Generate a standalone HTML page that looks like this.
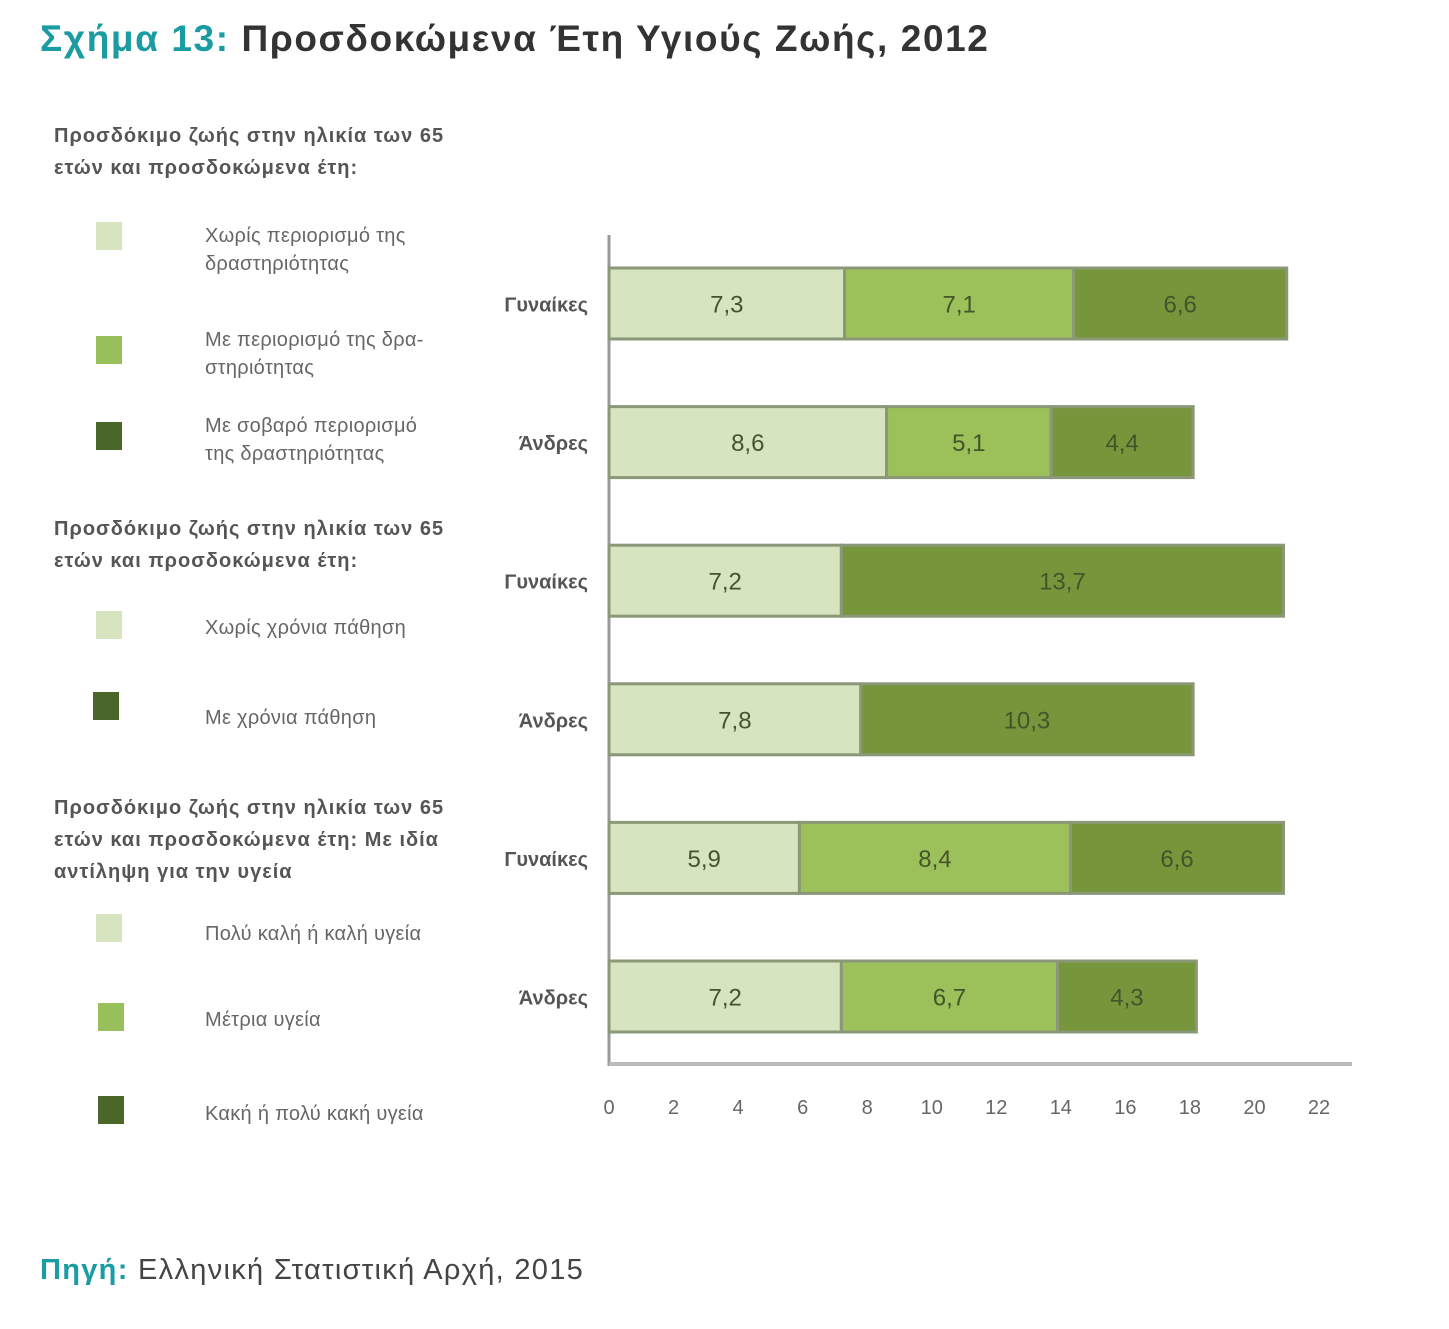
<!DOCTYPE html>
<html><head><meta charset="utf-8"><style>
body{margin:0;width:1449px;height:1329px;background:#fff;font-family:"Liberation Sans","DejaVu Sans",sans-serif;position:relative;overflow:hidden}
.t{position:absolute;white-space:nowrap}
.lg{position:absolute;font-size:20px;color:#666;line-height:28px;letter-spacing:0.3px}
.lh{position:absolute;font-size:20px;font-weight:bold;color:#555;line-height:32px;letter-spacing:1px}
.sq{position:absolute;width:26px;height:28px}
</style></head><body>
<div class="t" style="left:40px;top:18px;font-size:37px;font-weight:bold;color:#333;letter-spacing:1.6px"><span style="color:#1a9ca2">Σχήμα 13:</span> Προσδοκώμενα Έτη Υγιούς Ζωής, 2012</div>

<div class="lh" style="left:54px;top:120px">Προσδόκιμο ζωής στην ηλικία των 65<br>ετών και προσδοκώμενα έτη:</div>
<div class="sq" style="left:96px;top:222px;background:#d6e4c0"></div>
<div class="lg" style="left:205px;top:222px">Χωρίς περιορισμό της<br>δραστηριότητας</div>
<div class="sq" style="left:96px;top:336px;background:#97c05a"></div>
<div class="lg" style="left:205px;top:326px">Με περιορισμό της δρα-<br>στηριότητας</div>
<div class="sq" style="left:96px;top:422px;background:#4b6629"></div>
<div class="lg" style="left:205px;top:412px">Με σοβαρό περιορισμό<br>της δραστηριότητας</div>

<div class="lh" style="left:54px;top:513px">Προσδόκιμο ζωής στην ηλικία των 65<br>ετών και προσδοκώμενα έτη:</div>
<div class="sq" style="left:96px;top:611px;background:#d6e4c0"></div>
<div class="lg" style="left:205px;top:614px">Χωρίς χρόνια πάθηση</div>
<div class="sq" style="left:93px;top:692px;background:#4b6629"></div>
<div class="lg" style="left:205px;top:704px">Με χρόνια πάθηση</div>

<div class="lh" style="left:54px;top:792px">Προσδόκιμο ζωής στην ηλικία των 65<br>ετών και προσδοκώμενα έτη: Με ιδία<br>αντίληψη για την υγεία</div>
<div class="sq" style="left:96px;top:914px;background:#d6e4c0"></div>
<div class="lg" style="left:205px;top:920px">Πολύ καλή ή καλή υγεία</div>
<div class="sq" style="left:98px;top:1003px;background:#97c05a"></div>
<div class="lg" style="left:205px;top:1006px">Μέτρια υγεία</div>
<div class="sq" style="left:98px;top:1096px;background:#4b6629"></div>
<div class="lg" style="left:205px;top:1100px">Κακή ή πολύ κακή υγεία</div>

<svg id="chart" style="position:absolute;left:0;top:0" width="1449" height="1329"></svg>

<div class="t" style="left:40px;top:1254px;font-size:29px;color:#444;letter-spacing:1.3px"><b style="color:#1a9ca2">Πηγή:</b> Ελληνική Στατιστική Αρχή, 2015</div>

<script>
const categories=["Γυναίκες","Άνδρες","Γυναίκες","Άνδρες","Γυναίκες","Άνδρες"];
const seriesLight=[7.3,8.6,7.2,7.8,5.9,7.2];
const seriesMid=[7.1,5.1,0,0,8.4,6.7];
const seriesDark=[6.6,4.4,13.7,10.3,6.6,4.3];
const tickValues=[0,2,4,6,8,10,12,14,16,18,20,22];
const colors=["#d6e4c0","#9cc15b","#77963c"];
const svg=document.getElementById('chart');
const NS='http://www.w3.org/2000/svg';
const x0=609,xs=(1319-609)/22;
const xAt=v=>x0+v*xs;
const yAt=i=>268+i*138.6;
const bh=71;
function mk(t,a){const e=document.createElementNS(NS,t);for(const k in a)e.setAttribute(k,a[k]);svg.appendChild(e);return e;}
const ax=mk('line',{x1:x0,y1:235,x2:x0,y2:1066,stroke:'#999','stroke-width':3});


const bx=mk('line',{x1:x0,y1:1064,x2:1352,y2:1064,stroke:'#bbb','stroke-width':4});


tickValues.forEach(v=>{
  const t=mk('text',{x:xAt(v),y:1114,'text-anchor':'middle','font-size':20,fill:'#666','font-family':'Liberation Sans, sans-serif'});
  t.textContent=String(v);
  
  
});
categories.forEach((c,i)=>{
  const y=yAt(i);
  const l=mk('text',{x:588,y:y+bh/2+8,'text-anchor':'end','font-size':20,'font-weight':'bold',fill:'#555','font-family':'Liberation Sans, sans-serif'});
  l.textContent=c;
  
  
  let acc=0;
  [seriesLight[i],seriesMid[i],seriesDark[i]].forEach((v,s)=>{
    if(!v)return;
    const r=mk('rect',{x:xAt(acc),y:y,width:v*xs,height:bh,fill:colors[s],stroke:'#8a9878','stroke-width':3});
    
    
    const tx=mk('text',{x:xAt(acc+v/2),y:y+bh/2+9,'text-anchor':'middle','font-size':24,fill:'#44552a','font-family':'Liberation Sans, sans-serif'});
    tx.textContent=String(v).replace('.',',');
    
    
    acc+=v;
  });
});
</script>
</body></html>
